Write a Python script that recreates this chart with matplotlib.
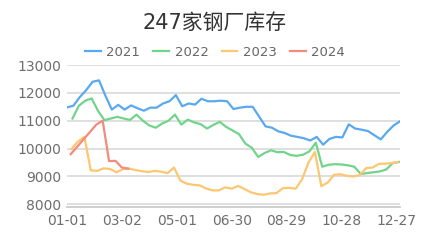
import matplotlib
matplotlib.use("Agg")
import matplotlib.pyplot as plt
import numpy as np

plt.rcParams['font.family'] = ['DejaVu Sans', 'Noto Sans CJK SC']

# weekly inventory (10k t), one value per Friday
y2021 = [11480, 11540, 11850, 12100, 12400, 12450, 11900, 11400, 11570, 11400,
         11550, 11450, 11360, 11470, 11470, 11620, 11700, 11920, 11520, 11620,
         11580, 11790, 11700, 11700, 11720, 11700, 11420, 11470, 11500, 11500,
         11150, 10800, 10750, 10620, 10560, 10460, 10420, 10370, 10290, 10420,
         10140, 10350, 10420, 10400, 10870, 10720, 10680, 10630, 10480, 10330,
         10600, 10830, 10980]
y2022 = [11080, 11540, 11720, 11800, 11350, 11020, 11080, 11140, 11080, 11030,
         11220, 11000, 10830, 10750, 10900, 11000, 11220, 10860, 11040, 10940,
         10880, 10720, 10850, 10960, 10780, 10650, 10520, 10180, 10030, 9700,
         9840, 9940, 9870, 9880, 9770, 9740, 9780, 9900, 10210, 9350,
         9420, 9440, 9430, 9400, 9350, 9090, 9120, 9150, 9180, 9250,
         9480, 9520]
y2023 = [9990, 10250, 10420, 9220, 9200, 9290, 9270, 9150, 9260, 9280,
         9230, 9190, 9160, 9200, 9170, 9120, 9320, 8850, 8740, 8700,
         8680, 8570, 8500, 8500, 8610, 8560, 8660, 8550, 8430, 8370,
         8340, 8390, 8400, 8580, 8590, 8560, 8900, 9500, 9880, 8650,
         8780, 9060, 9080, 9020, 9000, 9050, 9300, 9320, 9450, 9460,
         9480, 9520]
y2024 = [9800, 10060, 10330, 10590, 10860, 11000, 9550, 9560, 9320, 9280]

years = ['2021', '2022', '2023', '2024']
series = [y2021, y2022, y2023, y2024]
first_day = [0, 6, 5, 4]  # day of year of first Friday
colors = ['#5aa9ef', '#72d48b', '#fcc770', '#f28b7d']

tick_days = [0, 60, 120, 180, 240, 300, 360]
tick_labels = ['01-01', '03-02', '05-01', '06-30', '08-29', '10-28', '12-27']

fig = plt.figure(figsize=(4.3, 2.4), dpi=100)
ax = fig.add_axes([0.1558, 0.136, 0.7744, 0.593])

for name, vals, d0, c in zip(years, series, first_day, colors):
    x = d0 + np.arange(len(vals)) * 7
    ax.plot(x, vals, color=c, lw=1.6, label=name, solid_joinstyle='round')

ax.set_xlim(0, 364)
ax.set_ylim(7890, 13000)
ax.set_yticks([8000, 9000, 10000, 11000, 12000, 13000])
ax.set_xticks(tick_days)
ax.set_xticklabels(tick_labels)
ax.grid(axis='y', color='#dcdcdc', lw=1.3)
ax.set_axisbelow(True)
for s in ['left', 'right', 'top']:
    ax.spines[s].set_visible(False)
ax.spines['bottom'].set_color('#cccccc')
ax.spines['bottom'].set_linewidth(1.3)
ax.tick_params(axis='both', length=0, labelsize=10, colors='#6e6e6e')
ax.tick_params(axis='y', pad=4)
ax.tick_params(axis='x', pad=5)

fig.text(0.5, 1 - 23 / 240, '247家钢厂库存', ha='center', va='center',
         fontsize=15, color='#333333')
fig.legend(loc='center', bbox_to_anchor=(0.5, 1 - 52 / 240), ncol=4,
           frameon=False, fontsize=9.5, labelcolor='#666666',
           handlelength=1.2, handletextpad=0.4, columnspacing=1.0)

fig.savefig('out.png', dpi=100)
